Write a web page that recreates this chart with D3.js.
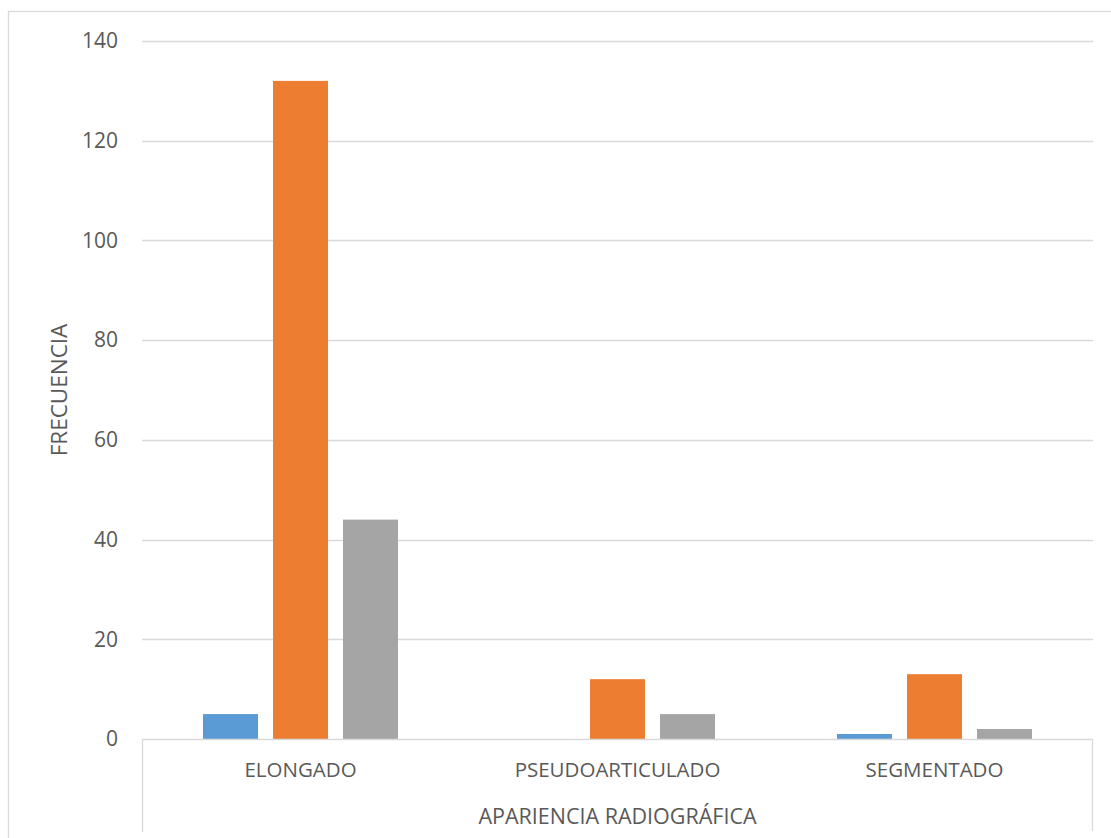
<!DOCTYPE html>
<html>
<head>
<meta charset="utf-8">
<script src="https://cdn.jsdelivr.net/npm/d3@7"></script>
<style>
  html, body { margin: 0; padding: 0; background: #fff; }
  svg { display: block; }
  text { font-family: "Open Sans", "Noto Sans", sans-serif; fill: #595959; }
</style>
</head>
<body>
<script>
// Frequency of each radiographic appearance, three series per category
const categories = ["ELONGADO", "PSEUDOARTICULADO", "SEGMENTADO"];
const seriesNames = ["Serie 1", "Serie 2", "Serie 3"];
const serie1 = [5, 0, 1];
const serie2 = [132, 12, 13];
const serie3 = [44, 5, 2];
const seriesColors = ["#5B9BD5", "#ED7D31", "#A5A5A5"];
const yTicks = [0, 20, 40, 60, 80, 100, 120, 140];
const yTitle = "FRECUENCIA";
const xTitle = "APARIENCIA RADIOGRÁFICA";

const W = 1111, H = 838;
const plot = { left: 142, right: 1093, top: 41, bottom: 739 };

const svg = d3.select("body").append("svg")
  .attr("width", W).attr("height", H);

// chart area border (runs off the right and bottom edges)
svg.append("rect")
  .attr("x", 8.5).attr("y", 11.5)
  .attr("width", 1120).attr("height", 840)
  .attr("fill", "none").attr("stroke", "#d9d9d9").attr("stroke-width", 1.3);

const y = d3.scaleLinear().domain([0, 140]).range([plot.bottom, plot.top]);
const x0 = d3.scaleBand().domain(categories).range([plot.left, plot.right])
  .paddingInner(0).paddingOuter(0);
const x1 = d3.scaleBand().domain(seriesNames)
  .range([61, x0.bandwidth() - 61]).paddingInner(0.2143).paddingOuter(0);

// gridlines
svg.append("g").selectAll("line").data(yTicks.filter(d => d > 0)).join("line")
  .attr("x1", plot.left).attr("x2", plot.right)
  .attr("y1", d => Math.round(y(d)) + 0.5).attr("y2", d => Math.round(y(d)) + 0.5)
  .attr("stroke", "#d9d9d9").attr("stroke-width", 1.3);

// y axis labels
const yAxis = d3.axisLeft(y).tickValues(yTicks).tickSize(0).tickPadding(0);
const gy = svg.append("g").attr("transform", `translate(118,0)`).call(yAxis);
gy.select(".domain").remove();
gy.selectAll("text").style("font-size", "21px").attr("fill", "#595959")
  .attr("font-family", "'Open Sans', sans-serif");

// bars
const seriesData = [serie1, serie2, serie3];
const groups = svg.append("g").selectAll("g").data(categories).join("g")
  .attr("transform", d => `translate(${x0(d)},0)`);
groups.selectAll("rect")
  .data((c, ci) => seriesNames.map((s, si) => ({ s, si, v: seriesData[si][ci] })))
  .join("rect")
  .attr("x", d => x1(d.s))
  .attr("width", x1.bandwidth())
  .attr("y", d => y(d.v))
  .attr("height", d => y(0) - y(d.v))
  .attr("fill", d => seriesColors[d.si]);

// category axis: baseline plus side walls of the multi-level box
const axisG = svg.append("g").attr("stroke", "#d9d9d9").attr("stroke-width", 1.3);
axisG.append("line").attr("x1", plot.left).attr("x2", plot.right)
  .attr("y1", plot.bottom + 0.5).attr("y2", plot.bottom + 0.5);
axisG.append("line").attr("x1", plot.left + 0.5).attr("x2", plot.left + 0.5)
  .attr("y1", plot.bottom).attr("y2", 832);
axisG.append("line").attr("x1", plot.right - 0.5).attr("x2", plot.right - 0.5)
  .attr("y1", plot.bottom).attr("y2", 831);

const xAxis = d3.axisBottom(x0).tickSize(0).tickPadding(0);
const gx = svg.append("g").attr("transform", `translate(0,${plot.bottom})`).call(xAxis);
gx.select(".domain").remove();
gx.selectAll("text").style("font-size", "20.5px").attr("fill", "#595959")
  .attr("font-family", "'Open Sans', sans-serif")
  .attr("y", 0).attr("dy", "0").attr("transform", "translate(0,38)");

// axis titles
svg.append("text")
  .attr("x", (plot.left + plot.right) / 2).attr("y", 824)
  .attr("text-anchor", "middle").style("font-size", "21.5px")
  .text(xTitle);
svg.append("text")
  .attr("transform", `translate(67,${(plot.top + plot.bottom) / 2}) rotate(-90)`)
  .attr("text-anchor", "middle").style("font-size", "22.5px")
  .text(yTitle);
</script>
</body>
</html>
